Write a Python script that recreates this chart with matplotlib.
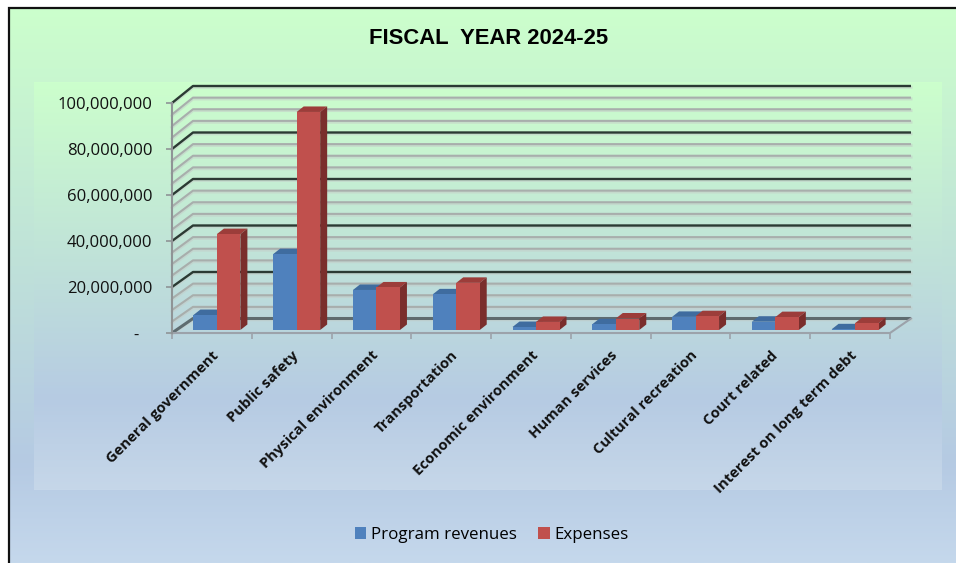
import numpy as np
import matplotlib
matplotlib.use("Agg")
import matplotlib.pyplot as plt
from matplotlib.colors import LinearSegmentedColormap
from matplotlib.patches import Polygon, Rectangle

title = "FISCAL  YEAR 2024-25"
categories = ["General government", "Public safety", "Physical environment",
              "Transportation", "Economic environment", "Human services",
              "Cultural recreation", "Court related", "Interest on long term debt"]
program_revenues = [6.5e6, 33e6, 17.4e6, 15.5e6, 1.3e6, 2.5e6, 5.7e6, 3.6e6, 0.3e6]
expenses = [41.7e6, 94.8e6, 18.5e6, 20.5e6, 3.5e6, 5.0e6, 6.0e6, 5.6e6, 3.0e6]
y_ticks = [0, 20e6, 40e6, 60e6, 80e6, 100e6]
y_tick_labels = ["-   ", "20,000,000", "40,000,000", "60,000,000", "80,000,000", "100,000,000"]

W, H = 956, 563
fig = plt.figure(figsize=(W / 100, H / 100), dpi=100, facecolor="white")


def rect(x0, y_top, x1, y_bot):
    return [x0 / W, 1 - y_bot / H, (x1 - x0) / W, (y_bot - y_top) / H]


# Background panels: vertical gradients
bg = fig.add_axes([0, 0, 1, 1], zorder=0)
bg.set_xlim(0, W)
bg.set_ylim(H, 0)
bg.axis("off")
outer = LinearSegmentedColormap.from_list(
    "outer", [(0, "#CCFFCC"), (0.82, "#B5CAE3"), (1, "#C5D8EC")])
inner = LinearSegmentedColormap.from_list(
    "inner", [(0, "#CCFFCC"), (0.78, "#B6CBE3"), (1, "#C6D7E9")])
ramp = np.linspace(0, 1, 256).reshape(-1, 1)
bg.imshow(ramp, cmap=outer, extent=(9, W, H, 8), aspect="auto", zorder=1)
bg.imshow(ramp, cmap=inner, extent=(34, 942, 490, 82), aspect="auto", zorder=2)
bg.set_xlim(0, W)
bg.set_ylim(H, 0)
bg.plot([9, 9, W], [H, 8, 8], color="#111111", lw=1.6, zorder=3, solid_joinstyle="miter")

# Chart plane: categories on x, dollars on y
FRONT_L, FRONT_R, FRONT_TOP, FRONT_BOT = 172, 890, 103, 333
ax = fig.add_axes(rect(FRONT_L, FRONT_TOP, FRONT_R, FRONT_BOT), zorder=1)
ax.patch.set_alpha(0)
ax.set_xlim(-0.5, 8.5)
ax.set_ylim(0, 100e6)
for s in ax.spines.values():
    s.set_visible(False)

PX_X = 9 / (FRONT_R - FRONT_L)
PX_Y = 100e6 / (FRONT_BOT - FRONT_TOP)
WALL_X = 21 * PX_X
x_l, x_r = -0.5, 8.5


def wall_lift(v):
    """Rise of the back wall over the front plane; the far wall reads slightly taller."""
    return (14.5 + 2.5 * v / 100e6) * PX_Y


# Back wall and side wall gridlines: light halo under each line
for v in np.arange(0, 100e6 + 1, 5e6):
    major = v % 20e6 == 0
    if major and v > 0:
        col, lw = "#2B3A33", 1.7
    elif major:
        col, lw = "#5E6C70", 2.2
    else:
        col, lw = "#A8AEAC", 1.5
    xs = [x_l, x_l + WALL_X, x_r + WALL_X]
    ys = [v, v + wall_lift(v), v + wall_lift(v)]
    ax.plot(xs, [y - 1.3 * PX_Y for y in ys], color="#C4CCC8", alpha=0.55, lw=2.2,
            clip_on=False, zorder=1)
    ax.plot(xs, ys, color=col, lw=lw, clip_on=False, zorder=2, solid_capstyle="butt")

# Floor edges and the front axes
ax.plot([x_l, x_r, x_r + WALL_X], [0, 0, wall_lift(0)], color="#9CA2AA", lw=1.5,
        clip_on=False, zorder=3)
ax.plot([x_l, x_l], [0, 100e6], color="#8F9496", lw=1.5, clip_on=False, zorder=3)


def draw_bar(x0, width, value, front, top, side):
    """One box: front face, top face and right side, seated part way into the floor."""
    ox, oy = 5 * PX_X, 3 * PX_Y
    dx, dy = 7 * PX_X, 5.5 * PX_Y
    x1 = x0 + width
    a, b = x0 + ox, x1 + ox
    y0, y1 = oy, value + oy
    ax.add_patch(Polygon([(a, y1), (b, y1), (b + dx, y1 + dy), (a + dx, y1 + dy)],
                         fc=top, ec="none", clip_on=False, zorder=5))
    ax.add_patch(Polygon([(b, y0), (b + dx, y0 + dy), (b + dx, y1 + dy), (b, y1)],
                         fc=side, ec="none", clip_on=False, zorder=5))
    ax.add_patch(Rectangle((a, y0), width, value, fc=front, ec="none",
                           clip_on=False, zorder=6))


BAR_W = 23.5 * PX_X
for i, (rev, exp) in enumerate(zip(program_revenues, expenses)):
    draw_bar(i - BAR_W, BAR_W, rev, "#4F81BD", "#3F6C9F", "#2F5A8C")
    draw_bar(i, BAR_W, exp, "#C0504D", "#9C3D3A", "#7A2E2C")

# Ticks and labels
ax.set_yticks(y_ticks, y_tick_labels, fontfamily="Open Sans", fontsize=12.0, color="#111111")
ax.tick_params(axis="y", length=4, width=1.2, color="#8F9496", pad=10)
ax.set_xticks(np.arange(-0.5, 9), minor=True)
ax.tick_params(axis="x", which="minor", length=4, width=1.2, color="#9CA2AA", direction="out")
ax.set_xticks(np.arange(9), categories, rotation=45, ha="right", rotation_mode="anchor",
              fontfamily="Open Sans", fontsize=10.6, fontweight="bold", color="#111111")
ax.tick_params(axis="x", which="major", length=0, pad=11)

# Title and legend
fig.text(489 / W, 1 - 39 / H, title, ha="center", va="center",
         fontfamily="Liberation Sans", fontweight="bold", fontsize=15.8, color="#000000")
handles = [Rectangle((0, 0), 1, 1, fc="#4F81BD", ec="none"),
           Rectangle((0, 0), 1, 1, fc="#C0504D", ec="none")]
fig.legend(handles, ["Program revenues", "Expenses"], loc="center",
           bbox_to_anchor=(492 / W, 1 - 535 / H), ncol=2, frameon=False,
           prop={"family": "Open Sans", "size": 12.2},
           handlelength=0.67, handleheight=0.67, handletextpad=0.3, columnspacing=1.25)

fig.savefig("out.png", dpi=100)
